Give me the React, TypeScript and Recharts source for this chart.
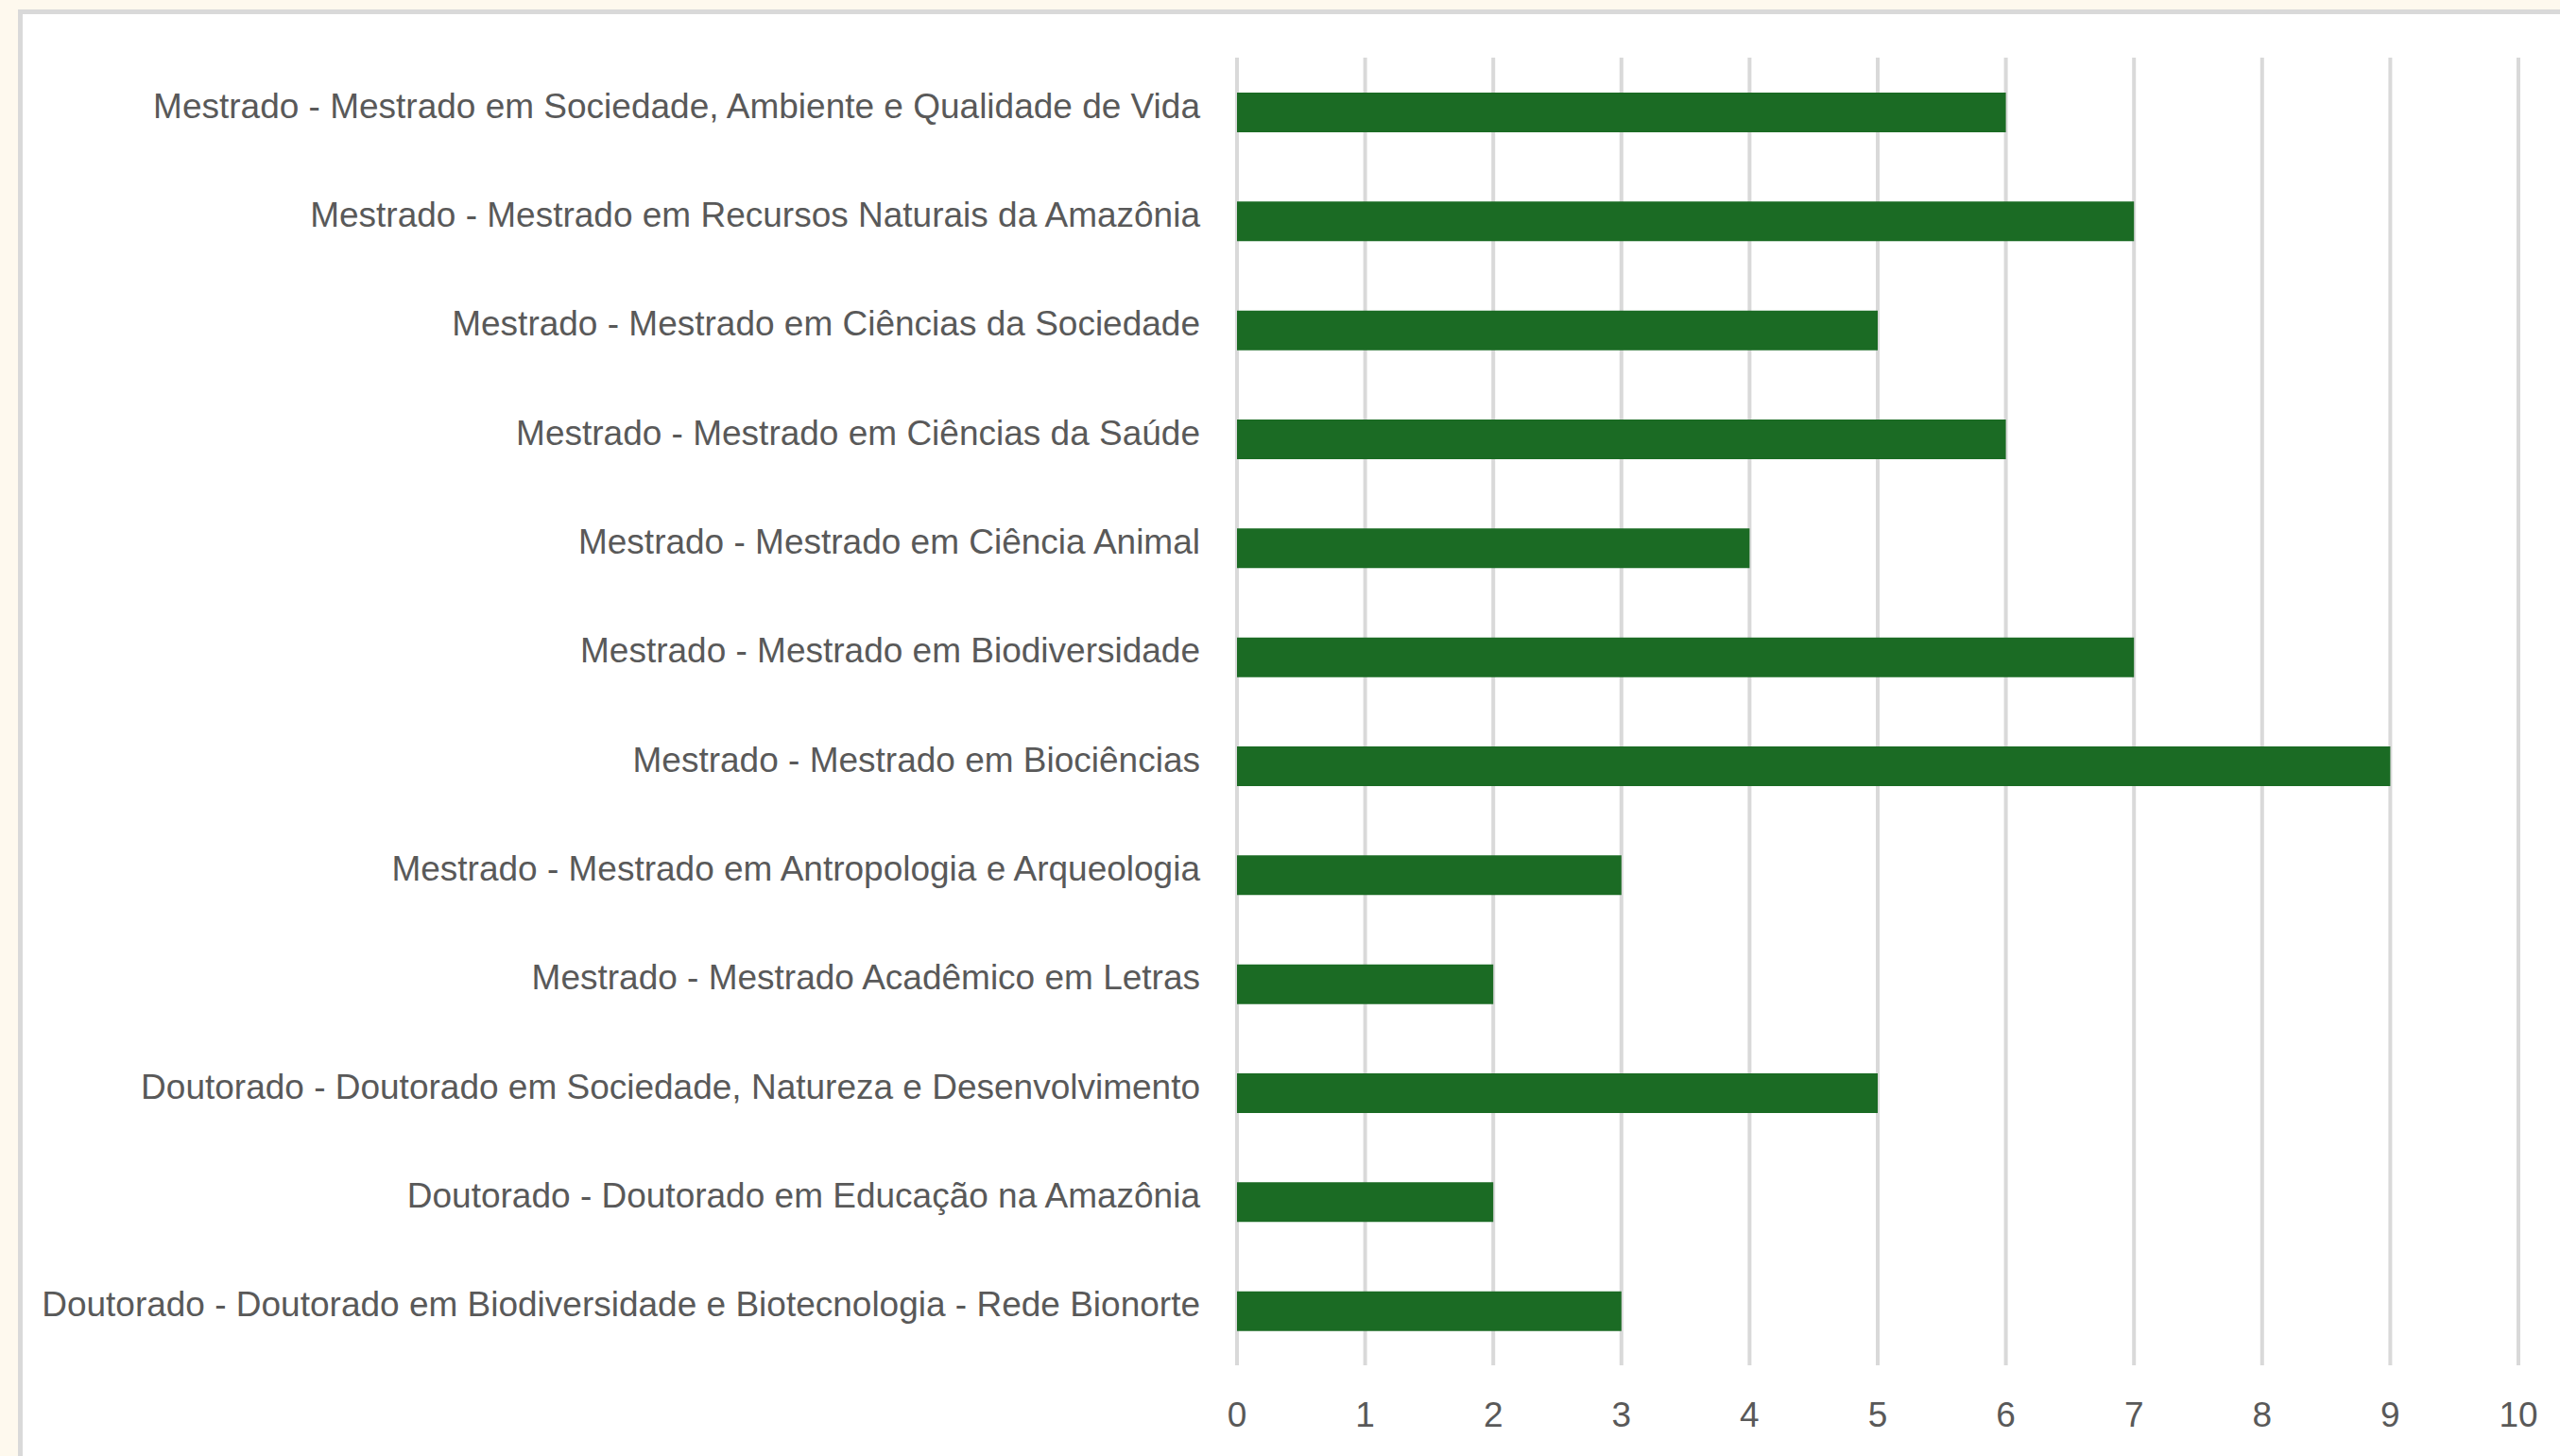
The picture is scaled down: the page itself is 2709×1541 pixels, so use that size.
import { BarChart, Bar, XAxis, YAxis, CartesianGrid } from "recharts";

const programas = [
    "Mestrado - Mestrado em Sociedade, Ambiente e Qualidade de Vida",
    "Mestrado - Mestrado em Recursos Naturais da Amazônia",
    "Mestrado - Mestrado em Ciências da Sociedade",
    "Mestrado - Mestrado em Ciências da Saúde",
    "Mestrado - Mestrado em Ciência Animal",
    "Mestrado - Mestrado em Biodiversidade",
    "Mestrado - Mestrado em Biociências",
    "Mestrado - Mestrado em Antropologia e Arqueologia",
    "Mestrado - Mestrado Acadêmico em Letras",
    "Doutorado - Doutorado em Sociedade, Natureza e Desenvolvimento",
    "Doutorado - Doutorado em Educação na Amazônia",
    "Doutorado - Doutorado em Biodiversidade e Biotecnologia - Rede Bionorte",
];
const quantidades = [6, 7, 5, 6, 4, 7, 9, 3, 2, 5, 2, 3];
const xTicks = [0, 1, 2, 3, 4, 5, 6, 7, 8, 9, 10];

const data = programas.map((nome, i) => ({ nome, valor: quantidades[i] }));

const FONT = "'Liberation Sans', Arial, sans-serif";
const TEXT = "#595959";

function YTick({ x, y, payload }: any) {
    return (
        <text x={x} y={y} dy={6} textAnchor="end" fill={TEXT} fontSize={37} fontFamily={FONT}>
            {payload.value}
        </text>
    );
}

export default function App() {
    return (
        <div style={{ position: "absolute", left: 0, top: 0, width: 2709, height: 1541, background: "#fef9ee", overflow: "hidden" }}>
            <div
                style={{
                    position: "absolute",
                    left: 19,
                    top: 10,
                    right: 0,
                    bottom: 0,
                    background: "#ffffff",
                    borderLeft: "5px solid #d9d9d9",
                    borderTop: "5px solid #d9d9d9",
                }}
            />
            <div style={{ position: "absolute", left: 0, top: 0 }}>
                <BarChart
                    width={2709}
                    height={1541}
                    data={data}
                    layout="vertical"
                    margin={{ top: 61, right: 44, bottom: 0, left: 0 }}
                >
                    <CartesianGrid horizontal={false} stroke="#d9d9d9" strokeWidth={4} />
                    <XAxis
                        type="number"
                        domain={[0, 10]}
                        ticks={xTicks}
                        height={96}
                        axisLine={false}
                        tickLine={false}
                        tickSize={0}
                        tickMargin={39}
                        tick={{ fill: TEXT, fontSize: 37, fontFamily: FONT }}
                    />
                    <YAxis
                        type="category"
                        dataKey="nome"
                        width={1309}
                        axisLine={false}
                        tickLine={false}
                        tickSize={0}
                        tickMargin={39}
                        interval={0}
                        tick={<YTick />}
                    />
                    <Bar dataKey="valor" fill="#1b6b24" barSize={42} isAnimationActive={false} />
                </BarChart>
            </div>
        </div>
    );
}
